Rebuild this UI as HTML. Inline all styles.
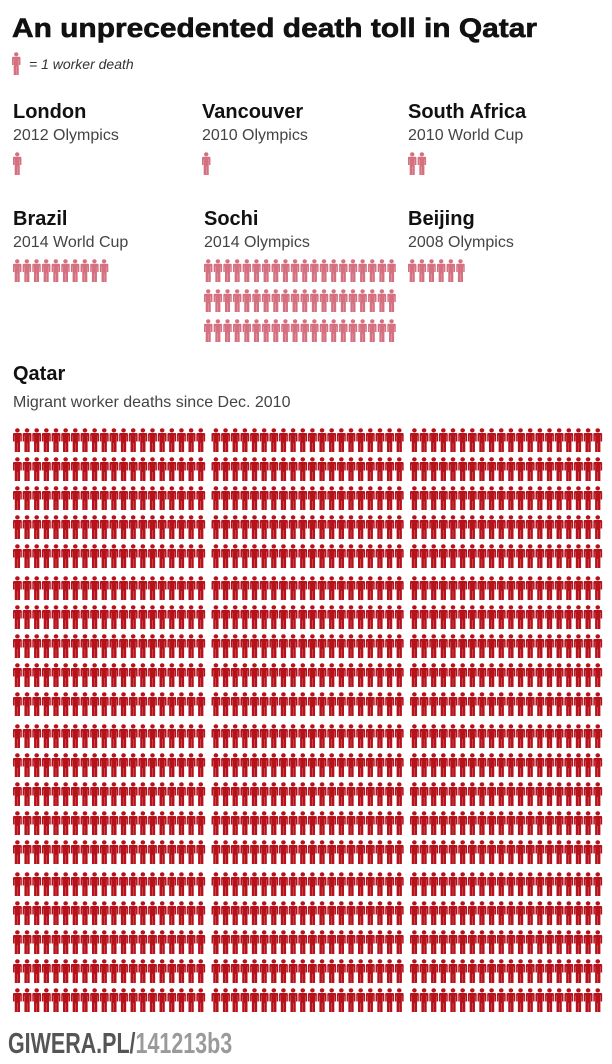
<!DOCTYPE html>
<html><head><meta charset="utf-8"><style>
body{margin:0;background:#fff;width:612px;height:1059px;overflow:hidden;font-family:"Liberation Sans",sans-serif}
svg text{font-family:"Liberation Sans",sans-serif}
</style></head><body>
<svg id="c" width="612" height="1059" xmlns="http://www.w3.org/2000/svg">
<rect width="612" height="1059" fill="#fff"/>
<text x="12" y="37" font-size="27" font-weight="bold" fill="#111" stroke="#111" stroke-width="0.6" textLength="525" lengthAdjust="spacingAndGlyphs">An unprecedented death toll in Qatar</text>
<text x="29" y="69" font-size="14" font-style="italic" fill="#333">= 1 worker death</text>
<g id="marks"></g>
<text x="0" y="1053" font-size="29" font-weight="bold" transform="translate(8,0) scale(0.74,1)"><tspan fill="#555">GIWERA.PL/</tspan><tspan fill="#9a9a9a">141213b3</tspan></text>
</svg>
<script>
const categories=["London","Vancouver","South Africa","Brazil","Sochi","Beijing","Qatar"];
const subtitles=["2012 Olympics","2010 Olympics","2010 World Cup","2014 World Cup","2014 Olympics","2008 Olympics","Migrant worker deaths since Dec. 2010"];
const deaths=[1,1,2,10,60,6,1200];
const NS="http://www.w3.org/2000/svg";
const svg=document.getElementById('c'),g=document.getElementById('marks');
const colX=[13,202,408,13,204,408,13];
const nameY=[118,118,118,225,225,225,380];
const iconY=[152,152,152,259,259,259,428];
function txt(x,y,s,size,w,fill,name){const t=document.createElementNS(NS,'text');t.setAttribute('x',x);t.setAttribute('y',y);t.setAttribute('font-size',size);t.setAttribute('font-weight',w);t.setAttribute('fill',fill);t.textContent=s;


g.appendChild(t);}
function icon(x,y,h,fill,name){const s=h/24;const p=document.createElementNS(NS,'path');
p.setAttribute('d','M4 0.3a2.1 2.1 0 1 1 0 4.2a2.1 2.1 0 1 1 0-4.2zM1 5h6a1 1 0 0 1 1 1v7.5h-1.4v-6h-0.2v16.5h-2.3v-9h-0.2v9h-2.3v-16.5h-0.2v6h-1.4v-7.5a1 1 0 0 1 1-1z');
p.setAttribute('transform',`translate(${x},${y}) scale(${s*1.1},${s})`);p.setAttribute('fill',fill);


g.appendChild(p);}
icon(12,52,23,'#d4707f','legend-icon');
const pitchX=9.65;
categories.forEach((c,i)=>{
  const big=i===6;
  txt(colX[i],nameY[i],c,20,'bold','#111','name-'+c.toLowerCase().replace(/ /g,'-'));
  txt(colX[i],nameY[i]+22+(big?5:0),subtitles[i],16,'normal','#444','subtitle-'+c.toLowerCase().replace(/ /g,'-'));
  const col=big?'#b5121b':'#d4707f';
  for(let k=0;k<deaths[i];k++){
    let x,y;
    if(!big){x=colX[i]+(k%20)*pitchX;y=iconY[i]+Math.floor(k/20)*30;}
    else{const blk=Math.floor(k/100),r=k%100;const bc=blk%3,br=Math.floor(blk/3);
      x=13+bc*198.5+(r%20)*pitchX;y=iconY[i]+br*148+Math.floor(r/20)*29;}
    icon(x,y,big?24:23,col,'icon-'+c.toLowerCase().replace(/ /g,'-'));
  }
});
</script>
</body></html>
